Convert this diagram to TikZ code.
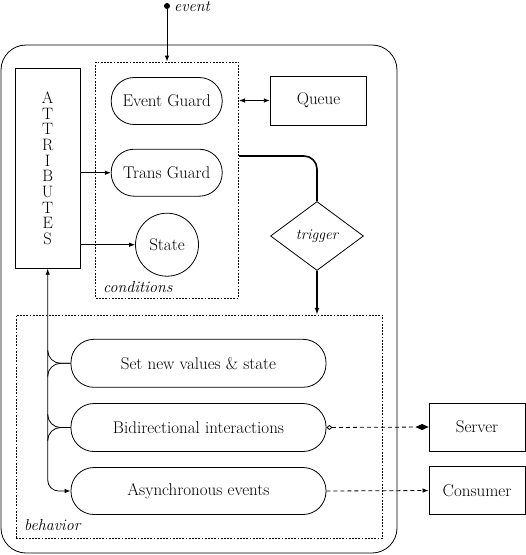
\documentclass[tikz,border=0pt]{standalone}
\usetikzlibrary{shapes.geometric,arrows.meta}
\begin{document}
\begin{tikzpicture}[x=1pt,y=-1pt,
  font=\fontsize{17}{15.7}\selectfont,
  every node/.style={inner sep=0pt},
  box/.style={draw, rectangle, line width=0.8pt},
  pill/.style={draw, rectangle, rounded corners=23pt, line width=0.8pt},
  frame/.style={draw, rectangle, dash pattern=on 1.8pt off 1.4pt, line width=0.6pt},
  conn/.style={line width=0.8pt},
  tip/.style={-{Latex[length=6pt,width=4.5pt]}},
  dtip/.style={{Latex[length=6pt,width=4.5pt]}-{Latex[length=6pt,width=4.5pt]}},
  lbl/.style={font=\fontsize{16}{15.7}\selectfont\itshape}
]
\useasboundingbox (0,0) rectangle (526,555);
% outer frame
\node[box, rounded corners=25pt, minimum width=396pt, minimum height=508pt] (outer) at (199,299) {};
% event
\node[circle, fill, minimum size=6pt] (ev) at (167,6) {};
\node[lbl, anchor=base west] (evl) at (174,11.5) {event};
% conditions
\node[frame, minimum width=143pt, minimum height=236pt] (cond) at (167.2,179.9) {};
\node[lbl, anchor=west] (condl) at (103,287) {conditions};
\node[box, minimum width=65pt, minimum height=200pt, align=center, font=\fontsize{16.5}{15.7}\selectfont] (attr) at (47.7,168.3) {A\\T\\T\\R\\I\\B\\U\\T\\E\\S};
\node[pill, minimum width=111pt, minimum height=47pt] (eg) at (166.7,101) {Event Guard};
\node[pill, minimum width=111pt, minimum height=47pt] (tg) at (166.7,172.7) {Trans Guard};
\node[draw, circle, minimum size=63pt, line width=0.8pt] (state) at (167,244.7) {State};
\node[box, minimum width=96.5pt, minimum height=49pt] (queue) at (318.5,100.5) {Queue};
\node[draw, diamond, line width=0.8pt, minimum width=93pt, minimum height=69pt, shape aspect=1.35] (trig) at (317,236) {\fontsize{15}{15}\selectfont\itshape trigger};
% behavior
\node[frame, minimum width=366.5pt, minimum height=223.3pt] (beh) at (199.2,426.7) {};
\node[lbl, anchor=west] (behl) at (24,525) {behavior};
\node[pill, minimum width=255pt, minimum height=48pt] (set) at (198.5,363.3) {Set new values \& state};
\node[pill, minimum width=255pt, minimum height=48pt] (bid) at (198.5,427.5) {Bidirectional interactions};
\node[pill, minimum width=255pt, minimum height=47pt] (async) at (198.5,491) {Asynchronous events};
\node[box, minimum width=96pt, minimum height=48pt] (server) at (477,427) {Server};
\node[box, minimum width=96pt, minimum height=48pt] (consumer) at (477,490.5) {Consumer};
% connectors
\draw[conn, tip] (ev) -- (ev |- cond.north);
\draw[conn, dtip] (cond.east |- queue.west) -- (queue.west);
\coordinate (tgout) at (cond.east |- 0,156);
\draw[line width=1.6pt, rounded corners=13pt] (tgout) -| (trig.north);
\draw[line width=1.6pt, -{Latex[length=7pt,width=5pt]}] (trig.south) -- (trig.south |- beh.north);
\draw[conn, tip] (attr.east |- tg.west) -- (tg.west);
\draw[conn, tip] (attr.east |- state.west) -- (state.west);
\draw[conn, dtip, rounded corners=11pt] (attr.south) |- (async.west);
\coordinate (s1) at (attr.south |- 0,350);
\coordinate (s2) at (attr.south |- 0,376.5);
\coordinate (b1) at (attr.south |- 0,414);
\coordinate (b2) at (attr.south |- 0,441);
\draw[conn, rounded corners=13pt] (s1) |- (set.west);
\draw[conn, rounded corners=13pt] (s2) |- (set.west);
\draw[conn, rounded corners=13pt] (b1) |- (bid.west);
\draw[conn, rounded corners=13pt] (b2) |- (bid.west);
\draw[conn, dash pattern=on 4pt off 3pt, {Diamond[open,length=6pt,width=5pt,sep=0pt]}-{Diamond[length=13pt,width=6pt]}] (bid.east) -- (server.west);
\draw[conn, dash pattern=on 4pt off 3pt, tip] (async.east) -- (consumer.west);
\end{tikzpicture}
\end{document}
